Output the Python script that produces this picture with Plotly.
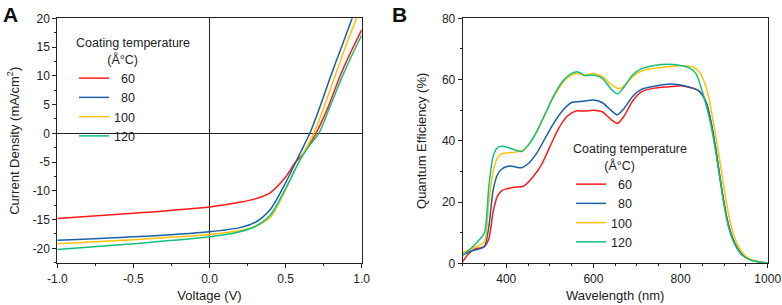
import plotly.graph_objects as go

# ---------------- data ----------------
temps = ["\u200760", "\u200780", "100", "120"]
colors = ["#ff1a1a", "#1b5fa6", "#ffc107", "#10c07c"]

# Panel A: J-V curves
v_60 = [-1.0, -0.5, 0.0, 0.2, 0.3, 0.4, 0.5, 0.56, 0.62, 0.66, 0.7, 0.78, 0.856, 0.93, 1.0]
j_60 = [-14.8, -13.9, -12.8, -12.0, -11.4, -10.3, -7.6, -5.2, -3.4, -1.8, 0.0, 4.6, 9.85, 14.2, 18.0]
v_80 = [-1.0, -0.5, 0.0, 0.2, 0.3, 0.4, 0.5, 0.55, 0.6, 0.659, 0.72, 0.795, 0.87, 0.937, 1.0]
j_80 = [-18.6, -18.0, -17.1, -16.4, -15.5, -13.2, -8.6, -5.9, -3.2, 0.0, 4.2, 9.85, 15.2, 20.0, 24.5]
v_100 = [-1.0, -0.5, 0.0, 0.2, 0.3, 0.4, 0.5, 0.55, 0.6, 0.685, 0.75, 0.823, 0.9, 0.966, 1.0]
j_100 = [-19.2, -18.5, -17.6, -16.9, -16.2, -14.6, -9.8, -6.9, -4.3, 0.0, 4.4, 9.85, 15.5, 20.0, 22.5]
v_120 = [-1.0, -0.5, 0.0, 0.2, 0.3, 0.4, 0.5, 0.55, 0.6, 0.66, 0.718, 0.8, 0.872, 0.94, 1.0]
j_120 = [-20.2, -19.2, -18.0, -17.1, -16.2, -14.2, -9.6, -7.0, -4.4, -2.0, 0.0, 5.2, 9.85, 13.8, 17.1]

# Panel B: quantum efficiency spectra
wl_60 = [300, 310, 320, 330, 340, 350, 360, 370, 380, 390, 400, 420, 440, 460, 480, 500, 520, 540, 560, 580,
         600, 620, 640, 655, 670, 690, 710, 740, 780, 800, 820, 840, 850, 860, 870, 880, 890, 900, 910, 920,
         930, 940, 960, 980, 1000]
eqe_60 = [0.5, 2.5, 4.0, 4.8, 5.0, 5.5, 8, 17, 22, 23.7, 24.3, 24.8, 25.2, 28, 32, 38, 44, 48, 49.7, 49.7,
          50.0, 49.5, 47, 45.7, 48, 53, 56, 57.2, 57.7, 58.0, 57.5, 56.5, 55, 52, 46, 38, 28.5, 19.5, 12.5, 8,
          5, 3, 1.2, 0.4, 0.1]
wl_80 = [300, 320, 340, 350, 360, 370, 380, 390, 400, 410, 420, 435, 450, 470, 490, 510, 530, 550, 570, 580,
         600, 620, 640, 655, 670, 690, 710, 740, 770, 800, 820, 840, 850, 860, 870, 880, 890, 900, 910, 920,
         930, 940, 960, 980, 1000]
eqe_80 = [2.7, 4, 4.8, 5.5, 12, 24, 29, 30.8, 31.5, 31.8, 31.5, 31.2, 32.5, 36, 41, 46, 50, 52.5, 52.8, 53,
          53.3, 52.5, 50, 48.5, 50.5, 54.5, 56.8, 57.8, 58.5, 58.2, 57.5, 56.5, 55, 52, 46, 38, 28.5, 19.5, 12.5, 8,
          5, 3, 1.2, 0.4, 0.1]
wl_100 = [300, 320, 340, 350, 360, 370, 380, 390, 400, 420, 440, 460, 480, 500, 520, 540, 560, 580, 600, 620,
          640, 660, 680, 700, 720, 760, 800, 830, 845, 855, 865, 875, 885, 895, 905, 915, 925, 935, 950, 970,
          1000]
eqe_100 = [3.5, 4.8, 6, 7, 20, 30, 34.5, 35.8, 36, 36.3, 37, 40.5, 46, 52, 57, 60.5, 62, 61.5, 62, 61,
           58.5, 57, 59.5, 62, 63.2, 64, 64.5, 64, 62, 59, 54, 46, 38, 29, 20, 13, 8, 5, 2.3, 0.8,
           0.1]
wl_120 = [300, 320, 340, 350, 360, 370, 380, 390, 400, 420, 435, 450, 470, 490, 510, 530, 550, 565, 580, 600,
          620, 640, 655, 670, 690, 710, 740, 770, 800, 820, 835, 850, 860, 870, 880, 890, 900, 910, 920, 930,
          940, 960, 980, 1000]
eqe_120 = [2.7, 5, 8, 10, 25, 35, 37.8, 38.2, 38, 37, 36.5, 38.5, 43, 49, 55, 59.5, 62, 62.5, 61.3, 61.5,
           60.5, 57, 55.3, 57.5, 61.5, 63.5, 64.6, 65, 64.6, 63.8, 62, 56, 51, 45, 37, 28, 19, 12, 7.5, 4.7,
           2.8, 1.1, 0.4, 0.1]

a_xticks = [-1.0, -0.5, 0.0, 0.5, 1.0]
a_xticklabels = ["-1.0", "-0.5", "0.0", "0.5", "1.0"]
a_yticks = [-20, -15, -10, -5, 0, 5, 10, 15, 20]
a_yticklabels = ["-20", "-15", "-10", "-5", "0", "5", "10", "15", "20"]
b_xticks = [400, 600, 800, 1000]
b_yticks = [0, 20, 40, 60, 80]

legend_title = "Coating temperature<br>         (\u00c5\u00b0C)"

# ---------------- figure ----------------
FONT = "Arial, 'Liberation Sans', sans-serif"
fig = go.Figure()

jv = [(v_60, j_60), (v_80, j_80), (v_100, j_100), (v_120, j_120)]
qe = [(wl_60, eqe_60), (wl_80, eqe_80), (wl_100, eqe_100), (wl_120, eqe_120)]

for (v, j), name, c in zip(jv, temps, colors):
    fig.add_trace(go.Scatter(x=v, y=j, mode="lines", name=name, legend="legend",
                             line=dict(color=c, width=1.5, shape="spline", smoothing=0.8),
                             xaxis="x", yaxis="y"))
for (w, q), name, c in zip(qe, temps, colors):
    fig.add_trace(go.Scatter(x=w, y=q, mode="lines", name=name, legend="legend2",
                             line=dict(color=c, width=1.5, shape="spline", smoothing=0.8),
                             xaxis="x2", yaxis="y2"))

W, H = 782, 305
ydom = [1 - 263.3 / H, 1 - 18.3 / H]
TITLE_FONT = dict(family=FONT, size=13, color="#222")
axis_common = dict(showline=True, linecolor="#222", linewidth=1, mirror=True, showgrid=False,
                   ticks="outside", ticklen=4, tickcolor="#222", tickwidth=1, automargin=False,
                   tickfont=dict(family=FONT, size=12, color="#222"))

fig.update_layout(
    width=W, height=H,
    margin=dict(l=0, r=0, t=0, b=0),
    paper_bgcolor="white", plot_bgcolor="white",
    font=dict(family=FONT, color="#222"),
    showlegend=True,
    xaxis=dict(domain=[57.3 / W, 361.7 / W], range=[-1, 1], tickmode="array",
               tickvals=a_xticks, ticktext=a_xticklabels,
               minor=dict(dtick=0.25, tick0=-1, ticklen=2, ticks="outside", tickcolor="#222"),
               zeroline=True, zerolinecolor="#222", zerolinewidth=1,
               title=dict(text="Voltage (V)", font=TITLE_FONT, standoff=6),
               anchor="y", **axis_common),
    yaxis=dict(domain=ydom, range=[-22.6, 20], tickmode="array",
               tickvals=a_yticks, ticktext=a_yticklabels,
               minor=dict(dtick=2.5, tick0=0, ticklen=2, ticks="outside", tickcolor="#222"),
               zeroline=True, zerolinecolor="#222", zerolinewidth=1,
               title=dict(text="Current Density (mA/cm<sup>2</sup>)", font=TITLE_FONT, standoff=10),
               anchor="x", **axis_common),
    xaxis2=dict(domain=[462.7 / W, 767.7 / W], range=[300, 1000], tickmode="array",
                tickvals=b_xticks,
                minor=dict(dtick=50, tick0=0, ticklen=2, ticks="outside", tickcolor="#222"),
                zeroline=False,
                title=dict(text="Wavelength (nm)", font=TITLE_FONT, standoff=6),
                anchor="y2", **axis_common),
    yaxis2=dict(domain=ydom, range=[0, 80], tickmode="array", tickvals=b_yticks,
                minor=dict(dtick=10, tick0=0, ticklen=2, ticks="outside", tickcolor="#222"),
                zeroline=False,
                title=dict(text="Quantum Efficiency (%)", font=TITLE_FONT, standoff=12),
                anchor="x2", **axis_common),
    legend=dict(x=74 / W, y=1 - 31 / H, xanchor="left", yanchor="top",
                bgcolor="rgba(0,0,0,0)", borderwidth=0,
                font=dict(family=FONT, size=12.5, color="#222"),
                title=dict(text=legend_title, font=dict(family=FONT, size=12.5, color="#222"), side="top"),
                itemwidth=30, tracegroupgap=0),
    legend2=dict(x=571 / W, y=1 - 137 / H, xanchor="left", yanchor="top",
                 bgcolor="rgba(0,0,0,0)", borderwidth=0,
                 font=dict(family=FONT, size=12.5, color="#222"),
                 title=dict(text=legend_title, font=dict(family=FONT, size=12.5, color="#222"), side="top"),
                 itemwidth=30, tracegroupgap=0),
    annotations=[
        dict(text="<b>A</b>", x=1 / W, y=1 - 1 / H, xref="paper", yref="paper",
             xanchor="left", yanchor="top", showarrow=False,
             font=dict(family=FONT, size=21, color="#111")),
        dict(text="<b>B</b>", x=390 / W, y=1 - 1 / H, xref="paper", yref="paper",
             xanchor="left", yanchor="top", showarrow=False,
             font=dict(family=FONT, size=21, color="#111")),
    ],
)

fig.write_html("out.html", config={"displayModeBar": False},
               post_script="document.body.style.margin='0';document.body.style.overflow='hidden';")
